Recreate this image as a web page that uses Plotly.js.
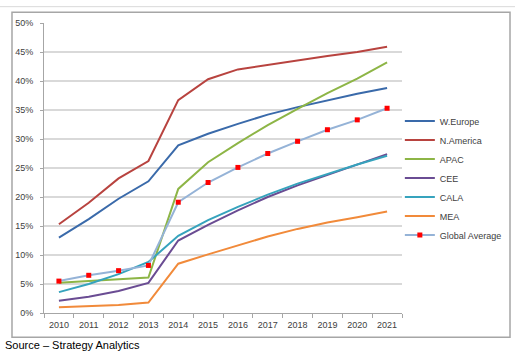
<!DOCTYPE html>
<html><head><meta charset="utf-8">
<script src="https://cdn.plot.ly/plotly-3.0.1.min.js"></script>
<style>html,body{margin:0;padding:0;background:#fff;}#chart{width:515px;height:352px;}</style>
</head><body><div id="chart"></div>
<script>
const years = ['2010','2011','2012','2013','2014','2015','2016','2017','2018','2019','2020','2021'];
const wEurope   = [13.0,16.2,19.7,22.7,28.9,30.9,32.6,34.2,35.5,36.7,37.8,38.8];
const nAmerica  = [15.3,19.0,23.2,26.2,36.7,40.3,42.0,42.8,43.5,44.3,45.0,45.9];
const apac      = [5.2,5.5,5.8,6.1,21.4,26.0,29.3,32.4,35.2,37.9,40.4,43.2];
const cee       = [2.1,2.8,3.8,5.2,12.5,15.2,17.7,20.0,22.0,23.8,25.6,27.4];
const cala      = [3.6,5.0,6.7,8.8,13.3,16.0,18.3,20.4,22.3,24.0,25.6,27.1];
const mea       = [1.0,1.2,1.4,1.8,8.5,10.1,11.7,13.2,14.5,15.6,16.5,17.5];
const globalAvg = [5.5,6.5,7.3,8.2,19.1,22.5,25.1,27.5,29.6,31.6,33.3,35.3];
const yTicks = [0,5,10,15,20,25,30,35,40,45,50];
const yTickText = yTicks.map(v => v + '%');

const series = [
  ['W.Europe', wEurope, '#3A6AAA'],
  ['N.America', nAmerica, '#B8433F'],
  ['APAC', apac, '#8DB546'],
  ['CEE', cee, '#6A4C93'],
  ['CALA', cala, '#36A3BD'],
  ['MEA', mea, '#F18A3A']
];
const traces = series.map(s => ({
  x: years, y: s[1], name: s[0], type: 'scatter', mode: 'lines',
  line: {color: s[2], width: 2}
}));
traces.push({
  x: years, y: globalAvg, name: 'Global Average', type: 'scatter', mode: 'lines+markers',
  line: {color: '#95B3D7', width: 2},
  marker: {symbol: 'square', color: '#FF0000', size: 5}
});

const layout = {
  width: 515, height: 352,
  margin: {l: 44, r: 113, t: 23, b: 39.3, autoexpand: false},
  paper_bgcolor: '#fff', plot_bgcolor: '#fff',
  font: {family: 'Liberation Sans, Arial, sans-serif', size: 9, color: '#404040'},
  showlegend: true,
  legend: {x: 0.994, y: 0.712, xanchor: 'left', yanchor: 'top', bgcolor: 'rgba(0,0,0,0)',
           font: {size: 9, color: '#404040'}, itemwidth: 30, tracegroupgap: 0},
  xaxis: {
    type: 'category', range: [-0.5, 11.5], tickson: 'boundaries', tickangle: 0,
    showline: true, linecolor: '#A6A6A6', linewidth: 1,
    ticks: 'outside', ticklen: 4, tickcolor: '#A6A6A6', ticklabelstandoff: 3,
    showgrid: false, zeroline: false, fixedrange: true
  },
  yaxis: {
    range: [0, 50], tickvals: yTicks, ticktext: yTickText,
    showline: true, linecolor: '#A6A6A6', linewidth: 1,
    ticks: 'outside', ticklen: 3, tickcolor: '#A6A6A6', ticklabelstandoff: 5,
    showgrid: true, gridcolor: '#D9D9D9', gridwidth: 1.5, zeroline: false
  },
  shapes: [
    {type: 'rect', xref: 'paper', yref: 'paper', x0: -0.0894, x1: 1.3017, y0: -0.0838, y1: 1.0369,
     line: {color: '#A6A6A6', width: 1.5}, fillcolor: 'rgba(0,0,0,0)', layer: 'below'},
    {type: 'line', xref: 'paper', yref: 'paper', x0: -0.13, x1: 1.32, y0: 1.0563, y1: 1.0563,
     line: {color: '#D9D9D9', width: 1}}
  ],
  annotations: [
    {text: 'Source – Strategy Analytics', xref: 'paper', yref: 'paper', x: -0.115, y: -0.111,
     xanchor: 'left', yanchor: 'middle', showarrow: false,
     font: {family: 'Liberation Sans, Arial, sans-serif', size: 11, color: '#000'}}
  ]
};
Plotly.newPlot('chart', traces, layout, {displayModeBar: false, staticPlot: true});
</script></body></html>
